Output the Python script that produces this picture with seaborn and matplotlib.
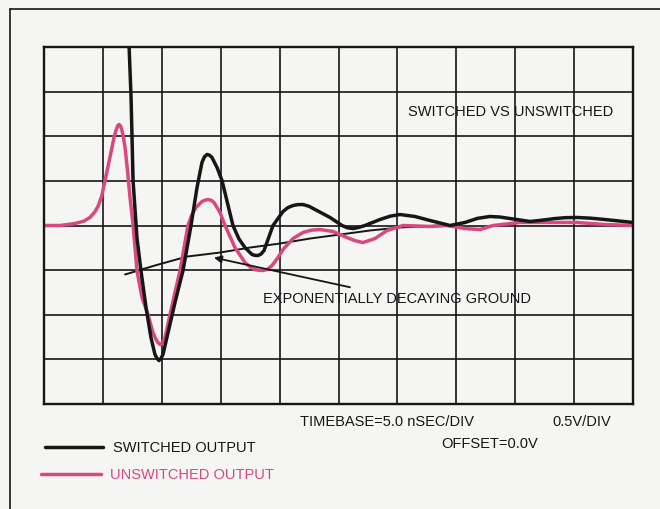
import matplotlib
matplotlib.use("Agg")
import matplotlib.pyplot as plt
from matplotlib.lines import Line2D
import numpy as np
import pandas as pd
import seaborn as sns

# Oscilloscope trace readings: time in ns (5 ns/div), amplitude in V (0.5 V/div)
unswitched_t = [0.00, 1.36, 2.63, 3.40, 3.90, 4.30, 4.58, 4.90, 5.18, 5.48, 5.77, 5.95, 6.11,
                6.25, 6.37, 6.50, 6.62, 6.75, 6.88, 7.10, 7.30, 7.56, 7.89, 8.32, 8.83, 9.25,
                9.50, 9.68, 9.82, 9.93, 10.07, 10.27, 10.70, 11.10, 11.55, 12.22, 12.55,
                12.90, 13.41, 13.70, 13.92, 14.20, 14.43, 14.94, 15.37, 16.21, 17.06, 17.50,
                17.91, 18.25, 18.59, 18.95, 19.36, 19.80, 20.29, 21.14, 21.99, 22.70, 23.43,
                24.53, 25.72, 26.40, 27.08, 28.10, 29.12, 30.48, 32.77, 34.21, 35.74, 37.01,
                38.12, 40.41, 42.95, 45.25, 47.62, 50.00]
unswitched_v = [0.000, 0.000, 0.022, 0.050, 0.090, 0.150, 0.213, 0.330, 0.504, 0.690, 0.874,
                 0.990, 1.065, 1.115, 1.132, 1.115, 1.065, 0.980, 0.874, 0.600, 0.314, 0.011,
                 -0.504, -0.807, -0.998, -1.200, -1.275, -1.312, -1.330, -1.334, -1.310,
                 -1.256, -0.998, -0.760, -0.504, 0.000, 0.120, 0.202, 0.269, 0.285, 0.291,
                 0.282, 0.258, 0.146, 0.000, -0.247, -0.415, -0.465, -0.493, -0.502, -0.504,
                 -0.492, -0.448, -0.370, -0.269, -0.146, -0.078, -0.052, -0.045, -0.067,
                 -0.135, -0.170, -0.191, -0.146, -0.056, 0.000, -0.011, 0.000, -0.034, -0.045,
                 0.000, 0.034, 0.034, 0.034, 0.011, 0.000]

switched_t = [7.13, 7.22, 7.39, 7.56, 7.89, 8.23, 8.66, 9.08, 9.42, 9.60, 9.76, 9.92, 10.10,
              10.53, 11.12, 11.80, 12.48, 12.99, 13.41, 13.62, 13.84, 14.05, 14.26, 14.69,
              15.11, 16.04, 16.55, 17.06, 17.66, 17.92, 18.17, 18.42, 18.68, 19.44, 20.29,
              20.70, 21.14, 21.55, 21.99, 22.50, 23.01, 24.28, 25.30, 25.75, 26.23, 26.70,
              27.25, 28.52, 29.40, 30.22, 31.49, 32.77, 34.47, 35.74, 36.80, 37.86, 38.70,
              39.56, 41.26, 42.30, 43.38, 44.30, 45.25, 46.40, 47.62, 50.00]
switched_v = [2.556, 2.018, 1.435, 0.504, -0.135, -0.504, -0.919, -1.256, -1.446, -1.490,
              -1.513, -1.490, -1.446, -1.200, -0.863, -0.504, 0.000, 0.426, 0.706, 0.770,
              0.796, 0.788, 0.762, 0.650, 0.504, 0.000, -0.150, -0.247, -0.325, -0.335,
              -0.336, -0.320, -0.280, 0.000, 0.157, 0.200, 0.224, 0.234, 0.235, 0.215, 0.179,
              0.090, 0.000, -0.025, -0.034, -0.022, 0.000, 0.067, 0.105, 0.123, 0.101,
              0.056, 0.000, 0.034, 0.080, 0.101, 0.095, 0.078, 0.045, 0.060, 0.078, 0.088,
              0.090, 0.082, 0.067, 0.034]

ground_t = [6.88, 9.42, 12.14, 14.94, 17.49, 20.03, 22.58, 25.13, 27.67, 30.22, 33.62]
ground_v = [-0.549, -0.448, -0.348, -0.303, -0.247, -0.202, -0.146, -0.101, -0.056, -0.022, 0.000]

x_ticks = np.arange(0, 50.1, 5.0)
y_ticks = np.arange(-2.0, 2.01, 0.5)

PINK = "#d9487f"
INK = "#161616"
PAPER = "#f5f5f3"

sns.set_theme(style="white")
plt.rcParams["font.family"] = ["Liberation Sans", "DejaVu Sans"]

fig = plt.figure(figsize=(6.6, 5.1), dpi=100, facecolor=PAPER)
ax = fig.add_axes([44 / 660, 1 - 405 / 510, 589 / 660, 357 / 510])
ax.set_facecolor(PAPER)

ground = pd.DataFrame({"t": ground_t, "v": ground_v})
unsw = pd.DataFrame({"t": unswitched_t, "v": unswitched_v})
sw = pd.DataFrame({"t": switched_t, "v": switched_v})

line_kw = dict(sort=False, estimator=None, solid_joinstyle="round", solid_capstyle="round")
sns.lineplot(data=ground, x="t", y="v", ax=ax, color=INK, linewidth=1.4, **line_kw)
sns.lineplot(data=unsw, x="t", y="v", ax=ax, color=PINK, linewidth=2.5, **line_kw)
sns.lineplot(data=sw, x="t", y="v", ax=ax, color=INK, linewidth=2.5, **line_kw)

ax.set_xlim(0, 50)
ax.set_ylim(-2, 2)
ax.set_xticks(x_ticks)
ax.set_yticks(y_ticks)
ax.tick_params(length=0, labelbottom=False, labelleft=False)
ax.grid(True, color=INK, linewidth=1.2)
ax.set_axisbelow(True)
ax.set_xlabel("")
ax.set_ylabel("")
for s in ax.spines.values():
    s.set_color(INK)
    s.set_linewidth(1.7)

ax.text(30.9, 1.278, "SWITCHED VS UNSWITCHED", ha="left", va="center",
        fontsize=10.5, color=INK)
ax.annotate("EXPONENTIALLY DECAYING GROUND", xy=(14.43, -0.36), xytext=(18.6, -0.807),
            ha="left", va="center", fontsize=10.5, color=INK,
            arrowprops=dict(arrowstyle="-|>", color=INK, lw=1.3, mutation_scale=11,
                            shrinkA=0, shrinkB=0))

# captions under the graticule
fig.text(300 / 660, 1 - 422 / 510, "TIMEBASE=5.0 nSEC/DIV", ha="left", va="center",
         fontsize=10.5, color=INK)
fig.text(552 / 660, 1 - 422 / 510, "0.5V/DIV", ha="left", va="center",
         fontsize=10.5, color=INK)
fig.text(441 / 660, 1 - 444 / 510, "OFFSET=0.0V", ha="left", va="center",
         fontsize=10.5, color=INK)

# key
fig.add_artist(Line2D([45 / 660, 103 / 660], [1 - 448 / 510] * 2, color=INK, lw=2.5))
fig.text(113 / 660, 1 - 448 / 510, "SWITCHED OUTPUT", ha="left", va="center",
         fontsize=10.5, color=INK)
fig.add_artist(Line2D([41 / 660, 101 / 660], [1 - 475 / 510] * 2, color=PINK, lw=2.5))
fig.text(110 / 660, 1 - 475 / 510, "UNSWITCHED OUTPUT", ha="left", va="center",
         fontsize=10.5, color=PINK)

# page frame
fig.add_artist(Line2D([10 / 660, 1.0], [1 - 10 / 510] * 2, color=INK, lw=1.2))
fig.add_artist(Line2D([10 / 660] * 2, [0.0, 1 - 10 / 510], color=INK, lw=1.2))

fig.savefig("out.png", dpi=100, facecolor=PAPER)
